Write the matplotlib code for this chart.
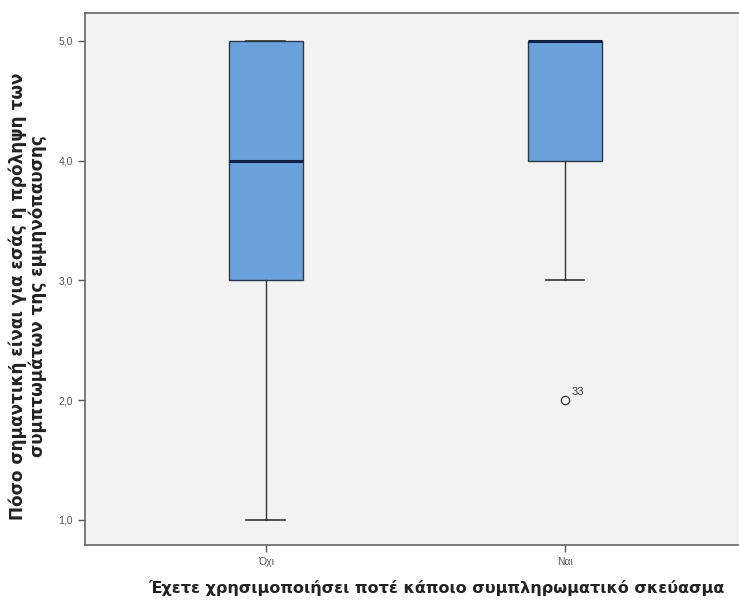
import matplotlib
matplotlib.use('Agg')
import matplotlib.pyplot as plt

plt.rcParams['font.family'] = ['Liberation Sans', 'DejaVu Sans']

categories = ['Όχι', 'Ναι']
whislo = [1.0, 3.0]
q1 = [3.0, 4.0]
med = [4.0, 5.0]
q3 = [5.0, 5.0]
whishi = [5.0, 5.0]
fliers = [[], [2.0]]
flier_ids = [[], ['33']]
yticks = [1.0, 2.0, 3.0, 4.0, 5.0]

stats = []
for i in range(len(categories)):
    stats.append({'whislo': whislo[i], 'q1': q1[i], 'med': med[i], 'q3': q3[i],
                  'whishi': whishi[i], 'fliers': fliers[i], 'label': categories[i]})

fig = plt.figure(figsize=(7.39, 6.04), dpi=100)
ax = fig.add_axes([0.115, 0.0977, 0.885, 0.8808])
ax.set_facecolor('#f2f2f2')

ax.bxp(stats, positions=[0, 1], widths=0.25, patch_artist=True,
       boxprops=dict(facecolor='#6ca2dc', edgecolor='#2b3a4a', linewidth=1.0),
       medianprops=dict(color='#0f1f45', linewidth=2.2),
       whiskerprops=dict(color='#333333', linewidth=1.0),
       capprops=dict(color='#333333', linewidth=1.2),
       capwidths=0.13,
       flierprops=dict(marker='o', markersize=6, markerfacecolor='none',
                       markeredgecolor='#333333', markeredgewidth=0.9))

for i in range(len(categories)):
    for v, lab in zip(fliers[i], flier_ids[i]):
        ax.annotate(lab, (i, v), xytext=(5, 4), textcoords='offset points',
                    fontsize=8, color='#333333')

ax.set_xlim(-0.605, 1.582)
ax.set_ylim(0.79, 5.233)
ax.set_yticks(yticks)
ax.set_yticklabels([f'{t:.1f}'.replace('.', ',') for t in yticks])
ax.set_xticks([0, 1])
ax.set_xticklabels(categories)
ax.tick_params(labelsize=7.5, colors='#555555', length=5, width=1)

for s in ['left', 'bottom', 'top']:
    ax.spines[s].set_color('#666666')
    ax.spines[s].set_linewidth(1.2)
ax.spines['right'].set_visible(False)

ax.set_ylabel('Πόσο σημαντική είναι για εσάς η πρόληψη των\nσυμπτωμάτων της εμμηνόπαυσης',
              fontsize=12.2, fontweight='bold', color='#222222',
              family='DejaVu Sans', linespacing=1.1)
ax.yaxis.set_label_coords(-0.058, 0.468)
ax.set_xlabel('Έχετε χρησιμοποιήσει ποτέ κάποιο συμπληρωματικό σκεύασμα',
              fontsize=11.5, fontweight='bold', color='#222222',
              family='DejaVu Sans')
ax.xaxis.set_label_coords(0.538, -0.066)

fig.savefig('out.png', dpi=100)
